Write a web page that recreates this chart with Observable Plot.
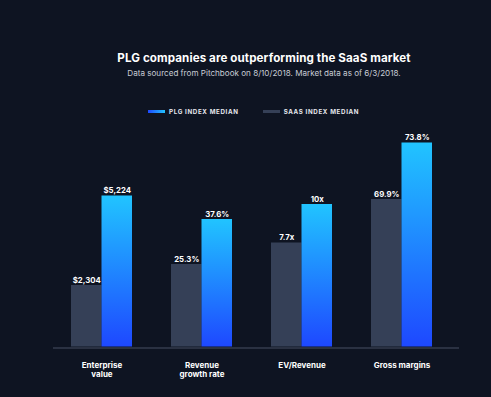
<!DOCTYPE html>
<html>
<head>
<meta charset="utf-8">
<script src="https://cdn.jsdelivr.net/npm/d3@7"></script>
<script src="https://cdn.jsdelivr.net/npm/@observablehq/plot@0.6"></script>
<style>
  html, body { margin: 0; padding: 0; background: #0e1422; }
  #page { position: relative; width: 491px; height: 397px; overflow: hidden; background: #0e1422; font-family: Inter, "Open Sans", sans-serif; }
  .title { position: absolute; left: 0; width: 491px; padding-left: 37px; box-sizing: border-box; text-align: center; color: #ffffff; }
  #t1 { top: 49px; font-size: 11.6px; font-weight: 700; line-height: 18px; letter-spacing: 0.1px; }
  #t2 { top: 67px; font-size: 8.1px; font-weight: 400; line-height: 12px; color: #c8ccd5; }
  #legend { position: absolute; top: 106px; left: 148px; height: 10px; display: flex; align-items: center; font-size: 6.2px; font-weight: 700; letter-spacing: 0.65px; color: #e6e8ee; }
  .sw { width: 17px; height: 3px; margin-right: 4px; }
  #chart { position: absolute; top: 120px; left: 0; }
</style>
</head>
<body>
<div id="page">
  <div class="title" id="t1">PLG companies are outperforming the SaaS market</div>
  <div class="title" id="t2">Data sourced from Pitchbook on 8/10/2018. Market data as of 6/3/2018.</div>
  <div id="legend"></div>
  <div id="chart"></div>
</div>
<script>
// ---- data ----
const categories = ["Enterprise\nvalue", "Revenue\ngrowth rate", "EV/Revenue", "Gross margins"];
const seriesNames = ["PLG INDEX MEDIAN", "SAAS INDEX MEDIAN"];
const plgLabels = ["$5,224", "37.6%", "10x", "73.8%"];
const saasLabels = ["$2,304", "25.3%", "7.7x", "69.9%"];
// bar heights as drawn in the picture (relative units; not proportional across groups)
const plgHeights = [151, 127.5, 142.5, 204];
const saasHeights = [61.5, 82.5, 104, 147.5];

const colors = { bg: "#0e1422", saas: "#354057", plgTop: "#21c4ff", plgBottom: "#1e48ff", base: "#2a3142" };

const plg = categories.map((c, i) => ({ category: c, value: plgHeights[i], label: plgLabels[i] }));
const saas = categories.map((c, i) => ({ category: c, value: saasHeights[i], label: saasLabels[i] }));

// legend
const legend = document.getElementById("legend");
legend.innerHTML =
  `<span class="sw" style="background: linear-gradient(to right, ${colors.plgBottom}, ${colors.plgTop});"></span><span>${seriesNames[0]}</span>` +
  `<span style="width:24px"></span>` +
  `<span class="sw" style="background:${colors.saas};"></span><span>${seriesNames[1]}</span>`;

const gradient = () => {
  const ns = "http://www.w3.org/2000/svg";
  const defs = document.createElementNS(ns, "defs");
  const lg = document.createElementNS(ns, "linearGradient");
  lg.setAttribute("id", "plgGrad");
  lg.setAttribute("x1", "0"); lg.setAttribute("y1", "0");
  lg.setAttribute("x2", "0"); lg.setAttribute("y2", "1");
  [[0, colors.plgTop], [1, colors.plgBottom]].forEach(([o, c]) => {
    const s = document.createElementNS(ns, "stop");
    s.setAttribute("offset", o); s.setAttribute("stop-color", c);
    lg.appendChild(s);
  });
  defs.appendChild(lg);
  return defs;
};

const half = 30.5;
const chart = Plot.plot({
  width: 491,
  height: 277,
  marginLeft: 53,
  marginRight: 32,
  marginTop: 22.5,
  marginBottom: 50.5,
  style: { background: "transparent", color: "#ffffff", fontFamily: "Inter, 'Open Sans', sans-serif" },
  x: { domain: categories, paddingInner: 0.394, paddingOuter: 0.2135, align: 0.407, label: null },
  y: { domain: [0, 204], axis: null },
  marks: [
    gradient,
    Plot.ruleY([0], { stroke: colors.base, strokeWidth: 2, dy: 1 }),
    Plot.barY(saas, { x: "category", y: "value", fill: colors.saas, insetRight: half }),
    Plot.barY(plg, { x: "category", y: "value", fill: "url(#plgGrad)", insetLeft: half }),
    Plot.text(saas, { x: "category", y: "value", text: "label", dx: -half / 2, dy: -3, lineAnchor: "bottom", fill: "#ffffff", fontSize: 7.8, fontWeight: 700 }),
    Plot.text(plg, { x: "category", y: "value", text: "label", dx: half / 2, dy: -3, lineAnchor: "bottom", fill: "#ffffff", fontSize: 7.8, fontWeight: 700 }),
    Plot.axisX({ tickSize: 0, tickPadding: 14, fontSize: 8, fontWeight: 700, fill: "#ffffff", lineHeight: 1.15, label: null })
  ]
});
document.getElementById("chart").appendChild(chart);
</script>
</body>
</html>
